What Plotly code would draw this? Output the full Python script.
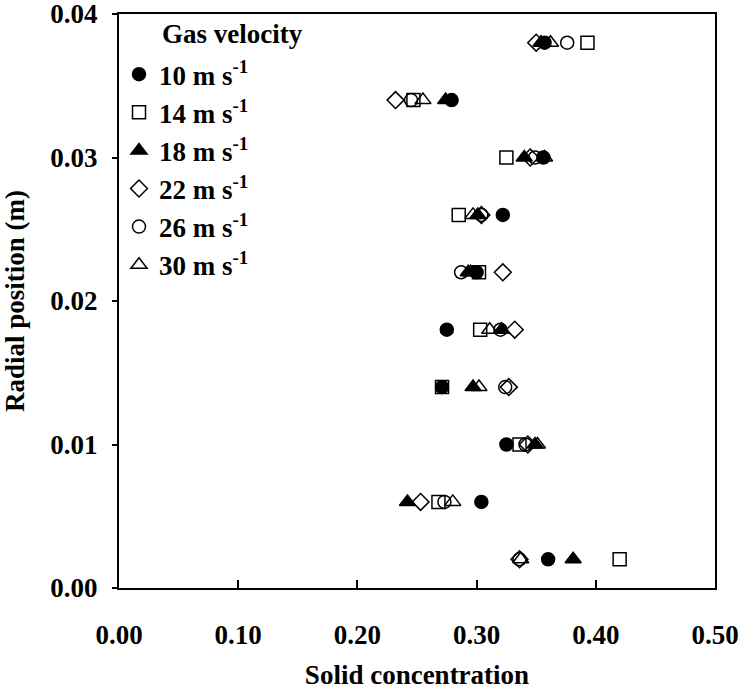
import plotly.graph_objects as go

radial_position = [0.002, 0.006, 0.010, 0.014, 0.018, 0.022, 0.026, 0.030, 0.034, 0.038]

series_names = ["10 m s<sup>-1</sup>", "14 m s<sup>-1</sup>", "18 m s<sup>-1</sup>",
                "22 m s<sup>-1</sup>", "26 m s<sup>-1</sup>", "30 m s<sup>-1</sup>"]
legend_title = "Gas velocity"

conc_10 = [0.360, 0.304, 0.325, 0.271, 0.275, 0.300, 0.322, 0.356, 0.279, 0.357]
conc_14 = [0.420, 0.268, 0.336, 0.271, 0.303, 0.302, 0.285, 0.325, 0.247, 0.393]
conc_18 = [0.381, 0.242, 0.349, 0.297, 0.321, 0.293, 0.301, 0.340, 0.274, 0.354]
conc_22 = [0.336, 0.253, 0.343, 0.327, 0.332, 0.322, 0.304, 0.345, 0.232, 0.350]
conc_26 = [0.336, 0.273, 0.341, 0.324, 0.320, 0.287, 0.304, 0.349, 0.245, 0.376]
conc_30 = [0.337, 0.280, 0.351, 0.302, 0.311, 0.295, 0.297, 0.357, 0.255, 0.362]

series_values = [conc_10, conc_14, conc_18, conc_22, conc_26, conc_30]
symbols = ["circle", "square-open", "triangle-up", "diamond-open", "circle-open", "triangle-up-open"]
sizes = [13, 13, 14, 13, 13, 14]

FONT = "Liberation Serif"
FS = 27
TFS = 27

fig = go.Figure()
for name, vals, sym, sz in zip(series_names, series_values, symbols, sizes):
    fig.add_trace(go.Scatter(
        x=vals, y=radial_position, mode="markers", name=name,
        legendgroup=name,
        marker=dict(symbol=sym, size=sz, color="black",
                    line=dict(color="black", width=1.5)),
    ))

tickfont = dict(family=FONT, size=TFS, color="black", weight="bold")

fig.update_xaxes(
    range=[0, 0.5], dtick=0.1, tick0=0, tickformat=".2f",
    showline=True, linecolor="black", linewidth=2, mirror=True,
    showgrid=False, zeroline=False, automargin=True,
    ticklabeloverflow="allow",
    ticks="inside", ticklen=8, tickwidth=2, tickcolor="black",
    ticklabelstandoff=22, tickfont=tickfont,
    title=dict(text="<b>Solid concentration</b>", standoff=16,
               font=dict(family=FONT, size=FS, color="black")),
)
fig.update_yaxes(
    range=[0, 0.04], dtick=0.01, tick0=0, tickformat=".2f",
    showline=True, linecolor="black", linewidth=2, mirror=True,
    showgrid=False, zeroline=False, automargin=True,
    ticklabeloverflow="allow",
    ticks="outside", ticklen=5, tickwidth=2, tickcolor="black",
    ticklabelstandoff=9, tickfont=tickfont,
    title=dict(text="<b>Radial position (m)</b>", standoff=24,
               font=dict(family=FONT, size=FS, color="black")),
)

fig.add_annotation(
    text="<b>" + legend_title + "</b>", xref="paper", yref="paper",
    x=0.069, y=0.965, xanchor="left", yanchor="middle", showarrow=False,
    font=dict(family=FONT, size=FS, color="black"),
)

fig.update_layout(
    width=740, height=693,
    margin=dict(l=119, r=25, t=14, b=105, autoexpand=False),
    plot_bgcolor="white", paper_bgcolor="white",
    font=dict(family=FONT, color="black"),
    legend=dict(
        x=0.0, y=0.937, xanchor="left", yanchor="top",
        bgcolor="rgba(0,0,0,0)",
        font=dict(family=FONT, size=FS, color="black", weight="bold"),
        tracegroupgap=0, itemsizing="trace",
    ),
)

fig.write_html("out.html", config={"displayModeBar": False},
               post_script="document.body.style.margin='0px';")
